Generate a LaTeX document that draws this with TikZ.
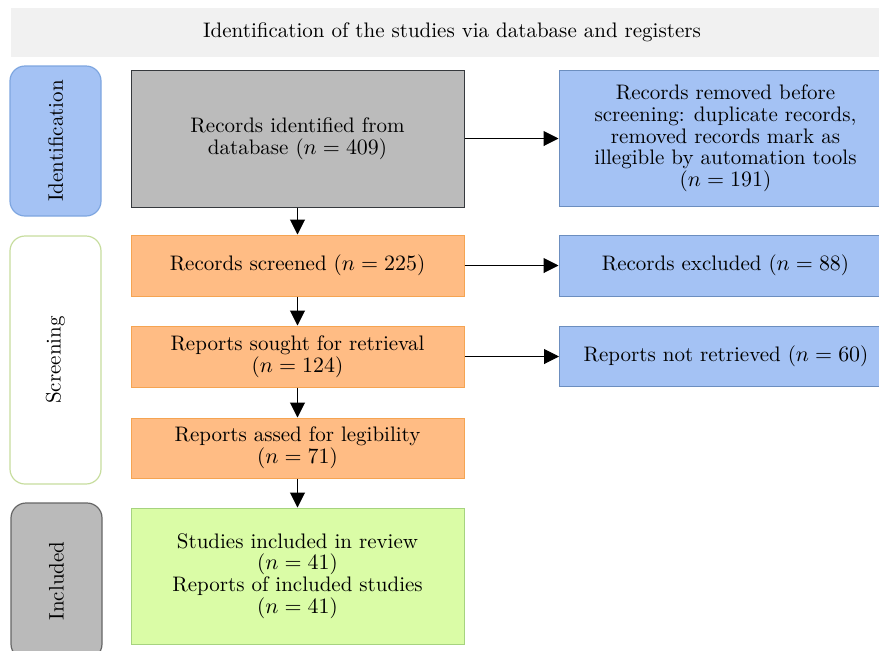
\documentclass[tikz,border=0pt]{standalone}
\usetikzlibrary{arrows.meta}
\definecolor{titlegray}{HTML}{F1F1F1}
\definecolor{laneblue}{HTML}{A4C2F4}
\definecolor{laneblueline}{HTML}{7EA6E0}
\definecolor{lanegreenline}{HTML}{C7DD9E}
\definecolor{lanegray}{HTML}{BABABA}
\definecolor{lanegrayline}{HTML}{666666}
\definecolor{boxgray}{HTML}{BBBBBB}
\definecolor{boxgrayline}{HTML}{36393D}
\definecolor{boxorange}{HTML}{FFBC84}
\definecolor{boxorangeline}{HTML}{F5A452}
\definecolor{boxgreen}{HTML}{DAFCA6}
\definecolor{boxgreenline}{HTML}{A6D37F}
\definecolor{boxblue}{HTML}{A4C2F4}
\definecolor{boxblueline}{HTML}{6C8EBF}
\tikzset{
  stagebox/.style={draw, line width=0.5pt, align=center, minimum width=166.5pt},
  orangebox/.style={stagebox, fill=boxorange, draw=boxorangeline},
  bluebox/.style={stagebox, fill=boxblue, draw=boxblueline},
  lanebox/.style={draw, line width=0.6pt, rounded corners=7.5pt, rotate=90, minimum height=45.5pt},
}
\begin{document}
\begin{tikzpicture}[>={Triangle[length=7.5pt,width=7.5pt]}, x=0.5pt, y=-0.5pt, font=\fontsize{10.5}{10.85}\selectfont]
    \useasboundingbox (0,0) rectangle (879,650);
    \node[fill=titlegray, minimum width=441pt, minimum height=24.5pt] (title) at (452,32.5) {Identification of the studies via database and registers};
    % lanes
    \node[lanebox, fill=laneblue, draw=laneblueline, minimum width=75pt] (identlane) at (55.5,141) {Identification};
    \node[lanebox, fill=white, draw=lanegreenline, minimum width=124pt] (screenlane) at (55.5,360) {Screening};
    \node[lanebox, fill=lanegray, draw=lanegrayline, minimum width=78pt] (inclane) at (56.5,581) {Included};
    % main column
    \node[stagebox, fill=boxgray, draw=boxgrayline, minimum height=68.5pt] (recid) at (297.5,138.5) {Records identified from\\database ($n = 409$)};
    \node[orangebox, minimum height=30.5pt] (screened) at (297.5,265.5) {Records screened ($n = 225$)};
    \node[orangebox, minimum height=30.5pt] (sought) at (297.5,356.5) {Reports sought for retrieval\\($n = 124$)};
    \node[orangebox, minimum height=30pt] (assessed) at (297.5,448) {Reports assed for legibility\\($n = 71$)};
    \node[stagebox, fill=boxgreen, draw=boxgreenline, minimum height=68pt] (studies) at (297.5,576) {Studies included in review\\($n = 41$)\\Reports of included studies\\($n = 41$)};
    % side column
    \node[bluebox, minimum height=68pt] (removed) at (725.5,138.5) {Records removed before\\screening: duplicate records,\\removed records mark as\\illegible by automation tools\\($n = 191$)};
    \node[bluebox, minimum height=30.5pt] (excluded) at (725.5,265.5) {Records excluded ($n = 88$)};
    \node[bluebox, minimum height=30pt] (notretrieved) at (726,356.5) {Reports not retrieved ($n = 60$)};
    \draw[->, line width=0.5pt] (recid) -- (screened);
    \draw[->, line width=0.5pt] (screened) -- (sought);
    \draw[->, line width=0.5pt] (sought) -- (assessed);
    \draw[->, line width=0.5pt] (assessed) -- (studies);
    \draw[->, line width=0.5pt] (recid.east) -- (removed.west);
    \draw[->, line width=0.5pt] (screened.east) -- (excluded.west);
    \draw[->, line width=0.5pt] (sought.east) -- (notretrieved.west);
\end{tikzpicture}
\end{document}
